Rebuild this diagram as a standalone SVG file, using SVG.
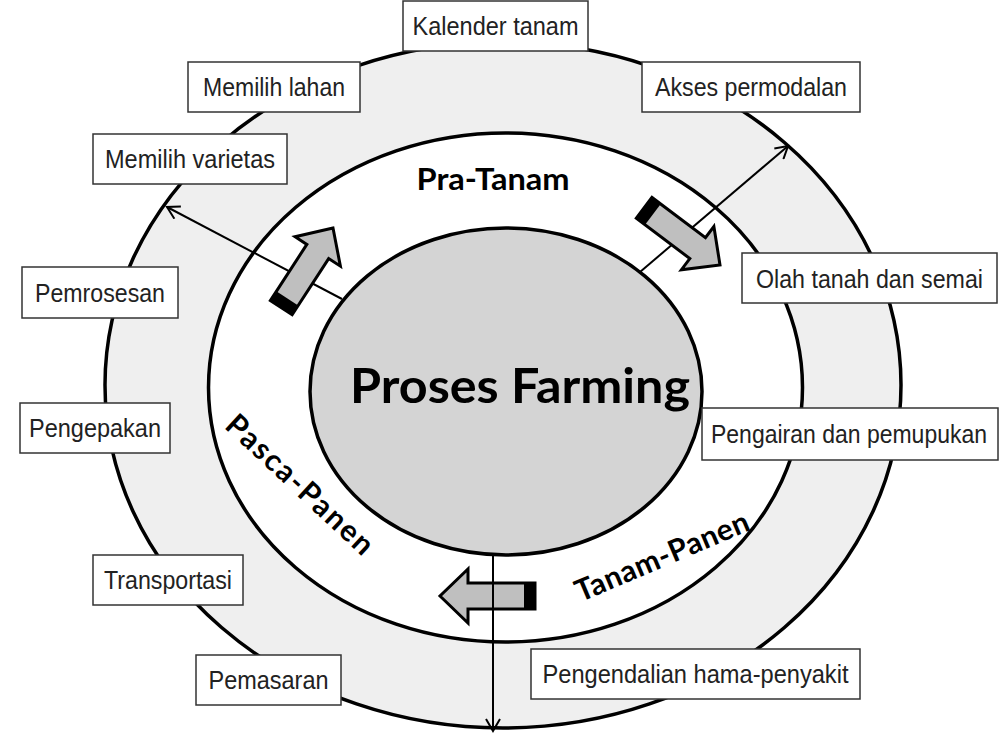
<svg xmlns="http://www.w3.org/2000/svg" width="999" height="735" viewBox="0 0 999 735">
<style>
.box rect{fill:#fff;stroke:#333;stroke-width:1.5}
.box text{font-family:"Liberation Sans",Arial,sans-serif;font-size:25px;fill:#222;text-anchor:middle}
.ring{stroke:#000;stroke-width:3.5}
.blk{fill:#bfbfbf;stroke:#000;stroke-width:3;stroke-linejoin:miter}
.band{fill:#000}
.conn{stroke:#000;stroke-width:2;fill:none}
.lbl{font-family:Lato,"Open Sans",sans-serif;font-weight:bold;fill:#000}
</style>
<defs>
<marker id="open" markerUnits="userSpaceOnUse" markerWidth="16" markerHeight="16" refX="13" refY="8" orient="auto" viewBox="0 0 16 16">
<path d="M1,1 L13,8 L1,15" fill="none" stroke="#000" stroke-width="2"/>
</marker>
<g id="barrow">
<polygon points="0,0 -28,-27 -28,-13 -95,-13 -95,13 -28,13 -28,27" class="blk"/>
<rect x="-95" y="-13" width="11" height="26" class="band"/>
</g>
</defs>
<rect width="999" height="735" fill="#fff"/>
<g id="rings">
<ellipse cx="503" cy="385" rx="398" ry="343" fill="#efefef" class="ring"/>
<ellipse cx="505.5" cy="387.5" rx="297" ry="254.5" fill="#fff" class="ring"/>
<ellipse cx="506" cy="391.5" rx="196" ry="163.5" fill="#d4d4d4" class="ring"/>
</g>
<g id="center">
<text x="520" y="403" class="lbl" font-size="48" text-anchor="middle" textLength="340" lengthAdjust="spacingAndGlyphs">Proses Farming</text>
</g>
<g id="phases">
<text x="493" y="190" class="lbl" font-size="31" text-anchor="middle" textLength="153" lengthAdjust="spacingAndGlyphs">Pra-Tanam</text>
<text class="lbl" font-size="30" text-anchor="middle" textLength="190" lengthAdjust="spacing" transform="translate(293,492) rotate(43)">Pasca-Panen</text>
<text class="lbl" font-size="30" text-anchor="middle" textLength="186" lengthAdjust="spacing" transform="translate(666,566) rotate(-23)">Tanam-Panen</text>
</g>
<g id="arrow-tanam-pasca"><use href="#barrow" transform="translate(440,596) rotate(180)"/></g>
<g id="connectors">
<line x1="342" y1="299" x2="167" y2="207" class="conn" marker-end="url(#open)"/>
<line x1="640" y1="272" x2="788" y2="146" class="conn" marker-end="url(#open)"/>
<line x1="493" y1="555" x2="493" y2="731" class="conn" marker-end="url(#open)"/>
</g>
<g id="arrow-pasca-pra"><use href="#barrow" transform="translate(333,228) rotate(-57)"/></g>
<g id="arrow-pra-tanam"><use href="#barrow" transform="translate(720,265) rotate(37)"/></g>
<g id="kalender" class="box"><rect x="403" y="1" width="185" height="50"/><text x="495.5" y="35" textLength="166" lengthAdjust="spacingAndGlyphs">Kalender tanam</text></g>
<g id="lahan" class="box"><rect x="188" y="62" width="172" height="50"/><text x="274" y="96" textLength="142" lengthAdjust="spacingAndGlyphs">Memilih lahan</text></g>
<g id="modal" class="box"><rect x="642" y="62" width="218" height="50"/><text x="751" y="96" textLength="192" lengthAdjust="spacingAndGlyphs">Akses permodalan</text></g>
<g id="varietas" class="box"><rect x="93" y="134" width="194" height="50"/><text x="190" y="168" textLength="170" lengthAdjust="spacingAndGlyphs">Memilih varietas</text></g>
<g id="olah" class="box"><rect x="742" y="253" width="255" height="50"/><text x="869.5" y="288" textLength="227" lengthAdjust="spacingAndGlyphs">Olah tanah dan semai</text></g>
<g id="proses" class="box"><rect x="22" y="267" width="156" height="51"/><text x="100" y="302" textLength="130" lengthAdjust="spacingAndGlyphs">Pemrosesan</text></g>
<g id="kemas" class="box"><rect x="20" y="403" width="150" height="50"/><text x="95" y="437" textLength="132" lengthAdjust="spacingAndGlyphs">Pengepakan</text></g>
<g id="air" class="box"><rect x="702" y="408" width="296" height="52"/><text x="849" y="443" textLength="276" lengthAdjust="spacingAndGlyphs">Pengairan dan pemupukan</text></g>
<g id="transport" class="box"><rect x="93" y="555" width="150" height="50"/><text x="168" y="589" textLength="128" lengthAdjust="spacingAndGlyphs">Transportasi</text></g>
<g id="pasar" class="box"><rect x="196" y="655" width="145" height="50"/><text x="268.5" y="689" textLength="120" lengthAdjust="spacingAndGlyphs">Pemasaran</text></g>
<g id="hama" class="box"><rect x="531" y="649" width="329" height="50"/><text x="695.5" y="683" textLength="306" lengthAdjust="spacingAndGlyphs">Pengendalian hama-penyakit</text></g>
</svg>
